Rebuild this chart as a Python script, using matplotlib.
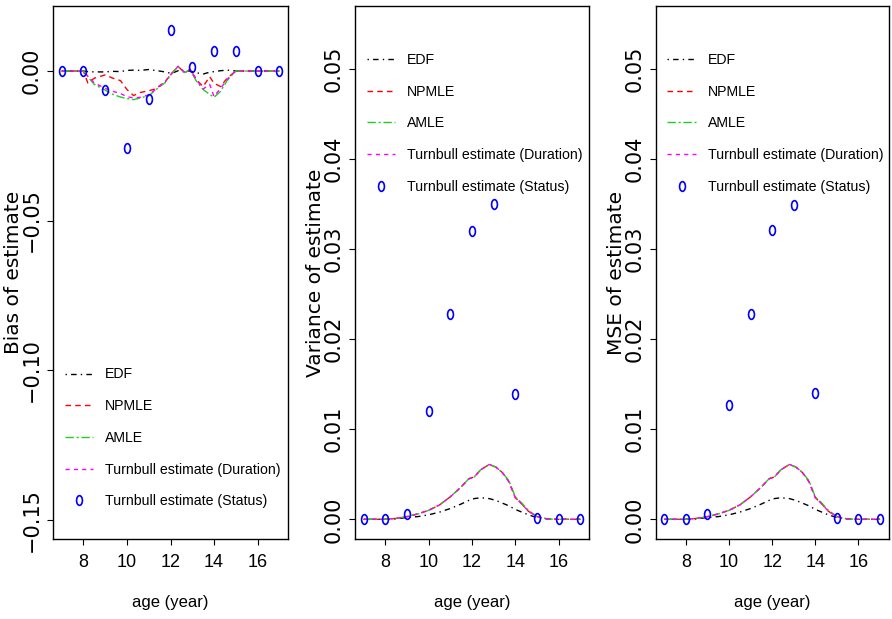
import matplotlib
matplotlib.use("Agg")
import matplotlib.pyplot as plt
from matplotlib.path import Path
from matplotlib.transforms import Affine2D

# ages for the smooth estimator curves
bias_ages = [7, 8, 8.2, 8.5, 9, 9.35, 9.7, 10, 10.3, 10.6, 11, 11.3, 11.75, 12.05,
             12.35, 12.65, 12.9, 13.2, 13.5, 13.8, 14, 14.3, 14.6, 15, 16, 17]
bias_edf = [0, 0, -0.0002, -0.0003, -0.0003, -0.0001, -0.0002, 0.0002, 0.0003, 0.0002,
            0.0005, 0.0002, -0.0003, -0.0008, 0.0001, -0.0003, 0.0, -0.0006, -0.0010,
            -0.0004, -0.0002, 0.0001, 0.0003, 0, 0, 0]
bias_npmle = [0, 0, -0.0040, -0.0024, -0.0013, -0.0024, -0.0032, -0.0062, -0.0082,
              -0.0072, -0.0066, -0.0060, -0.0036, -0.0008, 0.0015, -0.0006, 0.0005,
              -0.0030, -0.0052, -0.0019, -0.0041, -0.0052, -0.0024, 0, 0, 0]
bias_amle = [0, 0, -0.0019, -0.0045, -0.0064, -0.0078, -0.0087, -0.0092, -0.0096,
             -0.0090, -0.0083, -0.0064, -0.0039, -0.0010, 0.0015, -0.0005, 0.0004,
             -0.0035, -0.0062, -0.0078, -0.0088, -0.0068, -0.0032, 0, 0, 0]
bias_turnbull = [0, 0, -0.0017, -0.0040, -0.0058, -0.0068, -0.0075, -0.0086, -0.0090,
                 -0.0088, -0.0080, -0.0062, -0.0036, -0.0008, 0.0016, -0.0004, 0.0006,
                 -0.0030, -0.0060, -0.0045, -0.0085, -0.0058, -0.0028, 0, 0, 0]

var_ages = [7, 8, 8.5, 9, 9.5, 10, 10.5, 11, 11.5, 11.85, 12.1, 12.4, 12.8, 13.1,
            13.4, 13.7, 14, 14.3, 14.6, 15, 15.5, 16, 17]
var_edf = [0, 0, 0.00005, 0.0002, 0.0003, 0.0005, 0.0008, 0.0012, 0.0017, 0.0021,
           0.0023, 0.0024, 0.0023, 0.0021, 0.0018, 0.0015, 0.0011, 0.0008, 0.0005,
           0.0002, 0.00003, 0, 0]
var_npmle = [0, 0, 0.0001, 0.0003, 0.0006, 0.0010, 0.0016, 0.0025, 0.0036, 0.0045,
             0.0047, 0.0055, 0.0061, 0.0058, 0.0052, 0.0042, 0.0024, 0.0017, 0.0009,
             0.0003, 0.00003, 0, 0]
var_amle = [0, 0, 0.0001, 0.0003, 0.0006, 0.0010, 0.0016, 0.0025, 0.0036, 0.0045,
            0.0047, 0.0055, 0.0061, 0.0058, 0.0052, 0.0043, 0.0025, 0.0018, 0.0010,
            0.0003, 0.00003, 0, 0]
var_turnbull = [0, 0, 0.0001, 0.0003, 0.0006, 0.0010, 0.0016, 0.0025, 0.0036, 0.0045,
                0.0047, 0.0055, 0.0061, 0.0058, 0.0052, 0.0042, 0.0024, 0.0017, 0.0009,
                0.0003, 0.00003, 0, 0]

mse_edf = [0, 0, 0.00005, 0.0002, 0.0003, 0.0005, 0.0008, 0.0012, 0.0017, 0.0021,
           0.0023, 0.0024, 0.0023, 0.0021, 0.0018, 0.0015, 0.0011, 0.0008, 0.0005,
           0.0002, 0.00003, 0, 0]
mse_npmle = [0, 0, 0.0001, 0.0003, 0.0006, 0.0010, 0.0016, 0.0025, 0.0036, 0.0045,
             0.0047, 0.0055, 0.0061, 0.0058, 0.0052, 0.0042, 0.0024, 0.0017, 0.0009,
             0.0003, 0.00003, 0, 0]
mse_amle = [0, 0, 0.0001, 0.0003, 0.0006, 0.0010, 0.0016, 0.0025, 0.0036, 0.0045,
            0.0047, 0.0055, 0.0061, 0.0058, 0.0052, 0.0043, 0.0025, 0.0018, 0.0010,
            0.0003, 0.00003, 0, 0]
mse_turnbull = [0, 0, 0.0001, 0.0003, 0.0006, 0.0010, 0.0016, 0.0025, 0.0036, 0.0045,
                0.0047, 0.0055, 0.0061, 0.0058, 0.0052, 0.0042, 0.0024, 0.0017, 0.0009,
                0.0003, 0.00003, 0, 0]

# Turnbull estimate from current status data, at whole ages
status_ages = [7, 8, 9, 10, 11, 12, 13, 14, 15, 16, 17]
status_bias = [0, 0, -0.0064, -0.0258, -0.0095, 0.0136, 0.0014, 0.0068, 0.0068, 0, 0]
status_var = [0, 0, 0.0006, 0.0120, 0.0228, 0.0320, 0.0350, 0.0139, 0.0002, 0, 0]
status_mse = [0, 0, 0.0006, 0.0127, 0.0228, 0.0321, 0.0349, 0.0140, 0.0002, 0, 0]

labels = ["EDF", "NPMLE", "AMLE", "Turnbull estimate (Duration)", "Turnbull estimate (Status)"]
bias_ticks = [0.0, -0.05, -0.10, -0.15]
bias_ticklabels = ["0.00", "\u22120.05", "\u22120.10", "\u22120.15"]
var_ticks = [0.0, 0.01, 0.02, 0.03, 0.04, 0.05]
var_ticklabels = ["0.00", "0.01", "0.02", "0.03", "0.04", "0.05"]
age_ticks = [8, 10, 12, 14, 16]

narrow = ["Liberation Sans", "DejaVu Sans"]
wide = ["DejaVu Sans"]

# tall open "o" marker
oval = Path.unit_circle().transformed(Affine2D().scale(0.6, 1.0))

fig = plt.figure(figsize=(8.92, 6.19), dpi=100)

panels = [
    (0.0594, 0.2635, bias_ages, [bias_edf, bias_npmle, bias_amle, bias_turnbull], status_bias,
     "Bias of estimate", (-0.1565, 0.02174), bias_ticks, bias_ticklabels, 0.3218),
    (0.3980, 0.2623, var_ages, [var_edf, var_npmle, var_amle, var_turnbull], status_var,
     "Variance of estimate", (-0.00219, 0.05703), var_ticks, var_ticklabels, 0.912),
    (0.7351, 0.2612, var_ages, [mse_edf, mse_npmle, mse_amle, mse_turnbull], status_mse,
     "MSE of estimate", (-0.00219, 0.05703), var_ticks, var_ticklabels, 0.912),
]

styles = [
    dict(color="black", linestyle=(0, (1, 3, 4, 3))),
    dict(color="#FF0000", linestyle=(0, (4, 3))),
    dict(color="#22CC22", linestyle=(0, (6, 2, 1.5, 2))),
    dict(color="#FF00FF", linestyle=(0, (3, 3))),
]

for left, width, ages, curves, status, ylab, ylim, yt, ytl, legtop in panels:
    ax = fig.add_axes([left, 0.1292, width, 0.8611])
    for vals, st in zip(curves, styles):
        ax.plot(ages, vals, linewidth=1.0, **st)
    ax.plot(status_ages, status, linestyle="none", marker=oval, markersize=7,
            markerfacecolor="none", markeredgecolor="#0000FF", markeredgewidth=1.2)

    ax.set_xlim(6.6, 17.4)
    ax.set_ylim(*ylim)
    ax.set_xticks(age_ticks)
    ax.set_xticklabels([str(a) for a in age_ticks], family=narrow, fontsize=13)
    ax.set_yticks(yt)
    ax.set_yticklabels(ytl, family=wide, fontsize=15, rotation=90, va="center")
    ax.tick_params(axis="x", length=4, width=0.8, pad=6.5)
    ax.tick_params(axis="y", length=4, width=0.8, pad=4)
    for sp in ax.spines.values():
        sp.set_linewidth(1.0)

    ax.set_xlabel("age (year)", family=narrow, fontsize=12, va="center")
    ax.xaxis.set_label_coords(0.5, -0.12)
    ax.set_ylabel(ylab, family=wide, fontsize=14.5, va="center")
    ax.yaxis.set_label_coords(-0.167, 0.5)

    leg = ax.legend(labels, loc="upper left", bbox_to_anchor=(0.05, legtop),
                    frameon=False, borderpad=0, borderaxespad=0, handlelength=2.0,
                    handletextpad=0.85, labelspacing=1.25,
                    prop=dict(family=narrow, size=10.2))

fig.savefig("out.png", dpi=100)
